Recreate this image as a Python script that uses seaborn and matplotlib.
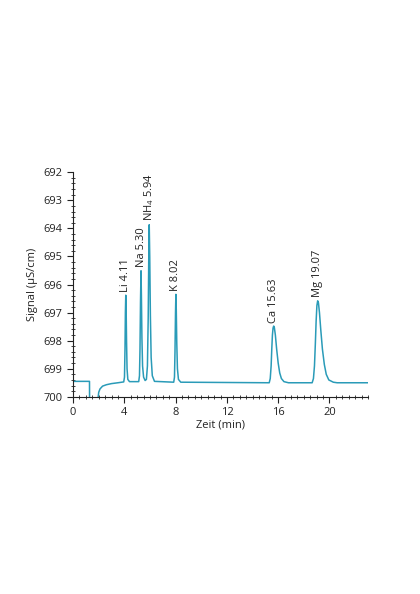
#!/usr/bin/env python3
## ion chromatogram of cations (Li, Na, NH4, K, Ca, Mg)

import matplotlib
matplotlib.use("Agg")
import matplotlib.pyplot as plt
from matplotlib.ticker import MultipleLocator
import seaborn as sb
import pandas as pd

# trace (time in min, signal in uS/cm)
time = [0.0, 1.28, 1.29, 1.93, 1.96, 2.0, 2.1, 2.3, 2.6, 3.0, 3.5, 3.95,
        4.01, 4.05, 4.08, 4.11, 4.14, 4.17, 4.21, 4.27, 4.4, 5.12,
        5.18, 5.22, 5.26, 5.30, 5.33, 5.37, 5.42, 5.5, 5.62,
        5.72, 5.8, 5.86, 5.9, 5.94, 5.98, 6.03, 6.09, 6.18, 6.35, 7.85,
        7.91, 7.95, 7.99, 8.02, 8.05, 8.09, 8.14, 8.22, 8.4, 15.3,
        15.38, 15.45, 15.5, 15.55, 15.6, 15.65, 15.7, 15.78, 15.88, 16.0, 16.12, 16.25, 16.45, 16.8, 18.65,
        18.75, 18.83, 18.9, 18.96, 19.02, 19.08, 19.14, 19.22, 19.32, 19.45, 19.6, 19.75, 19.95, 20.3, 20.6, 23.0]
signal = [699.45, 699.45, 700.4, 700.4, 700.0, 699.84, 699.72, 699.62, 699.57, 699.53, 699.5, 699.47,
          699.3, 698.3, 697.0, 696.38, 696.9, 698.0, 699.0, 699.38, 699.46, 699.46,
          699.25, 698.3, 696.6, 695.51, 696.4, 697.9, 698.9, 699.3, 699.42,
          699.38, 698.9, 697.2, 695.2, 693.87, 695.0, 697.1, 698.6, 699.25, 699.45, 699.48,
          699.3, 698.4, 697.0, 696.35, 696.9, 698.1, 699.0, 699.38, 699.48, 699.5,
          699.35, 698.9, 698.3, 697.8, 697.55, 697.48, 697.53, 697.8, 698.3, 698.8, 699.15, 699.35, 699.46, 699.5, 699.5,
          699.35, 698.9, 698.1, 697.3, 696.75, 696.58, 696.65, 697.0, 697.6, 698.3, 698.85, 699.2, 699.4, 699.48, 699.5, 699.5]

# peak labels
peak_names = ["Li 4.11", "Na 5.30", r"NH$_4$ 5.94", "K 8.02", "Ca 15.63", "Mg 19.07"]
peak_time = [4.11, 5.30, 5.94, 8.02, 15.63, 19.07]
peak_top = [696.38, 695.51, 693.87, 696.35, 697.48, 696.58]

sb.set_style("ticks")
plt.rcParams["font.family"] = ["Open Sans", "DejaVu Sans"]
plt.rcParams["mathtext.fontset"] = "custom"
plt.rcParams["mathtext.rm"] = "Open Sans"

df = pd.DataFrame({"time": time, "signal": signal})

fig = plt.figure(figsize=(4.2, 5.94), dpi=100)
ax = fig.add_axes([0.174, 0.332, 0.702, 0.378])
sb.lineplot(data=df, x="time", y="signal", ax=ax, color="#2a9bb8", linewidth=1.1, sort=False)

for name, t, top in zip(peak_names, peak_time, peak_top):
    ax.text(t, top - 0.12, name, rotation=90, ha="center", va="bottom", fontsize=8, color="#222222")

ax.set_xlim(0, 23)
ax.set_ylim(700, 692)
ax.xaxis.set_major_locator(MultipleLocator(4))
ax.xaxis.set_minor_locator(MultipleLocator(0.5))
ax.yaxis.set_major_locator(MultipleLocator(1))
ax.yaxis.set_minor_locator(MultipleLocator(0.2))
ax.tick_params(which="major", direction="out", length=4, width=0.8, labelsize=8, colors="#222222")
ax.tick_params(which="minor", direction="inout", length=3, width=0.6, color="#222222")
sb.despine(ax=ax)
for s in ["left", "bottom"]:
    ax.spines[s].set_color("#222222")
    ax.spines[s].set_linewidth(0.8)

ax.set_xlabel("Zeit (min)", fontsize=8, labelpad=1, color="#222222")
ax.set_ylabel("Signal (µS/cm)", fontsize=8, labelpad=4, color="#222222")

fig.savefig("out.png", dpi=100)
plt.close(fig)
